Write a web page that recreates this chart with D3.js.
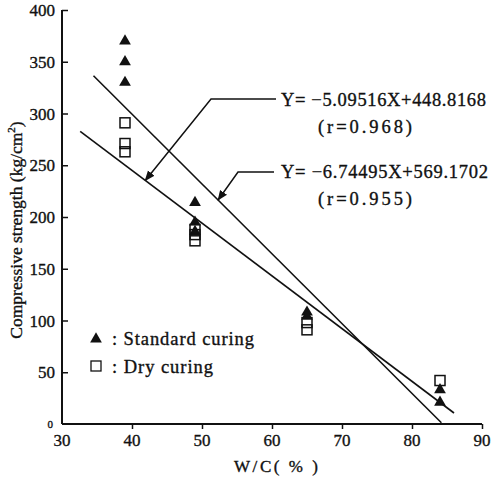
<!DOCTYPE html>
<html><head><meta charset="utf-8">
<script src="https://cdn.jsdelivr.net/npm/d3@7"></script>
<style>body{margin:0;background:#fff}svg{display:block}text{font-family:"Liberation Serif","Times New Roman",serif;fill:#111;stroke:#111;stroke-width:0.35}</style>
</head><body><svg id="c" width="494" height="485"></svg>
<script>
const xTicks = [30,40,50,60,70,80,90];
const yTicks = [0,50,100,150,200,250,300,350,400];
const stdX = [39,39,39,49,49,49,65,65,84,84];
const stdY = [370,350,330,214,195,186,108,104,33,21];
const dryX = [39,39,39,49,49,49,65,65,84];
const dryY = [291,271,263,188,183,177,98,91,42];
const fitStd = {a:-6.74495, b:569.1702, from:34.5, to:84.2};
const fitDry = {a:-5.09516, b:448.8168, from:32.6, to:86};
const eqLabels = ["Y= \u22125.09516X+448.8168","(r=0.968)","Y= \u22126.74495X+569.1702","(r=0.955)"];
const legendLabels = [": Standard curing", ": Dry curing"];

const svg = d3.select("#c");
const x = d3.scaleLinear().domain([30,90]).range([62,482]);
const y = d3.scaleLinear().domain([0,400]).range([424,10]);
const ink = "#111";

// axes
const gx = svg.append("g").attr("transform","translate(0,424)")
  .call(d3.axisBottom(x).tickValues(xTicks.slice(1)).tickSize(5).tickFormat(""));
gx.select(".domain").attr("stroke",ink).attr("stroke-width",2).attr("d","M62,0H482");
gx.selectAll(".tick line").attr("stroke",ink).attr("stroke-width",1.5);
const gy = svg.append("g").attr("transform","translate(62,0)")
  .call(d3.axisRight(y).tickValues(yTicks.slice(1)).tickSize(6).tickFormat(""));
gy.select(".domain").attr("stroke",ink).attr("stroke-width",2).attr("d","M0,10V424");
gy.selectAll(".tick line").attr("stroke",ink).attr("stroke-width",1.5);

// tick labels
svg.selectAll(".xl").data(xTicks).join("text").attr("class","xl")
  .attr("x",d=>x(d)).attr("y",446).attr("text-anchor","middle")
  .attr("font-size",17).text(d=>d);
svg.selectAll(".yl").data(yTicks).join("text").attr("class","yl")
  .attr("x",d=>d===0?53:55).attr("y",d=>y(d)+6).attr("text-anchor","end")
  .attr("font-size",d=>d===0?11:17).attr("dy",d=>d===0?-2:0).text(d=>d);

// axis titles
svg.append("text").attr("x",276).attr("y",472).attr("text-anchor","middle")
  .attr("font-size",17).attr("textLength",84).attr("lengthAdjust","spacing").text("W/C( % )");
const yt = svg.append("text").attr("transform","translate(22,230) rotate(-90)")
  .attr("text-anchor","middle").attr("font-size",17.5);
yt.append("tspan").text("Compressive strength (kg/cm");
yt.append("tspan").attr("dy",-7).attr("font-size",11).text("2");
yt.append("tspan").attr("dy",7).text(")");

// fit lines
[fitStd, fitDry].forEach(f=>{
  svg.append("line").attr("x1",x(f.from)).attr("y1",y(f.a*f.from+f.b))
    .attr("x2",x(f.to)).attr("y2",y(f.a*f.to+f.b))
    .attr("stroke",ink).attr("stroke-width",1.6);
});

// leader lines with arrowheads
svg.append("defs").append("marker").attr("id","ah").attr("viewBox","0 0 10 10")
  .attr("refX",9).attr("refY",5).attr("markerWidth",7).attr("markerHeight",7)
  .attr("orient","auto").append("path").attr("d","M0,1L10,5L0,9Z").attr("fill",ink);
function leader(xTxt, yTxt, xKnee, f, xTarget){
  const tx = x(xTarget), ty = y(f.a*xTarget+f.b);
  svg.append("path").attr("d",`M${xTxt},${yTxt}H${xKnee}L${tx},${ty}`)
    .attr("fill","none").attr("stroke",ink).attr("stroke-width",1.5).attr("marker-end","url(#ah)");
}
leader(276,99,211,fitDry,41.9);
leader(274,172,238,fitStd,52.3);

// equations
const eqPos = [[281,106,205],[318,133,94],[281,178,207],[318,205,94]];
eqLabels.forEach((t,i)=>{
  svg.append("text").attr("x",eqPos[i][0]).attr("y",eqPos[i][1])
    .attr("font-size",18.5).attr("textLength",eqPos[i][2]).attr("lengthAdjust","spacing").text(t);
});

// points
const tri = d3.symbol().type(d3.symbolTriangle).size(60);
svg.selectAll(".std").data(stdX.map((v,i)=>[v,stdY[i]])).join("path").attr("class","std")
  .attr("d",tri).attr("transform",d=>`translate(${x(d[0])},${y(d[1])})`).attr("fill",ink);
svg.selectAll(".dry").data(dryX.map((v,i)=>[v,dryY[i]])).join("rect").attr("class","dry")
  .attr("x",d=>x(d[0])-5).attr("y",d=>y(d[1])-5).attr("width",10).attr("height",10)
  .attr("fill","none").attr("stroke",ink).attr("stroke-width",1.5);

// legend
svg.append("path").attr("d",tri).attr("transform","translate(96,339)").attr("fill",ink);
svg.append("rect").attr("x",91).attr("y",361).attr("width",10).attr("height",10)
  .attr("fill","none").attr("stroke",ink).attr("stroke-width",1.3);
const legLen = [142, 101];
legendLabels.forEach((t,i)=>{
  svg.append("text").attr("x",112).attr("y",345+i*28).attr("font-size",18.5)
    .attr("textLength",legLen[i]).attr("lengthAdjust","spacing").text(t);
});
</script></body></html>
